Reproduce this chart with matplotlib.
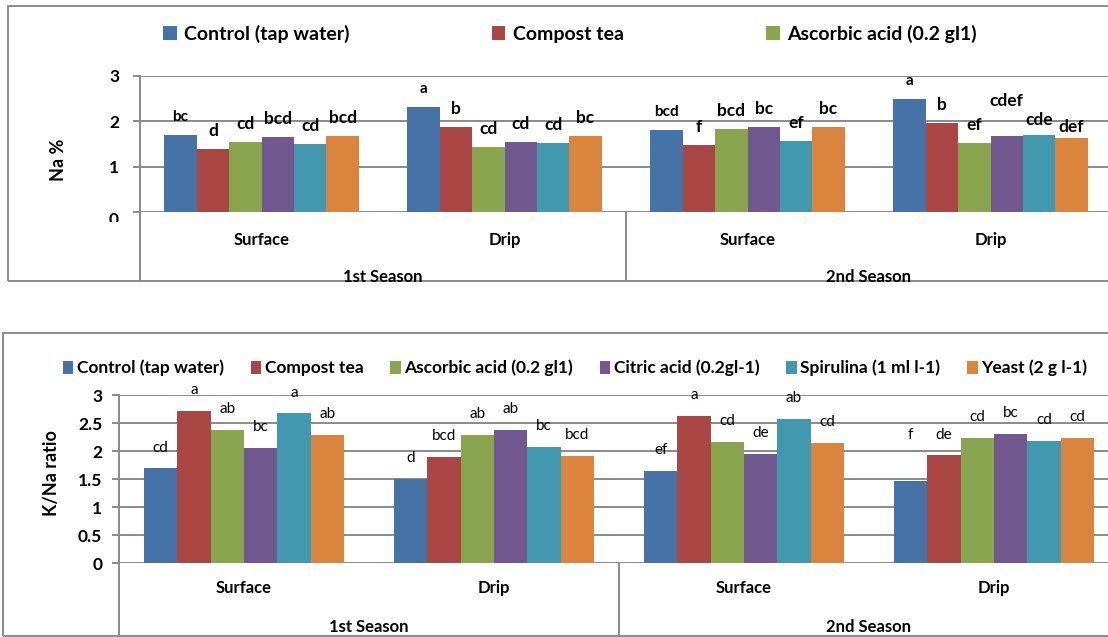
import numpy as np
import matplotlib.pyplot as plt
from matplotlib.patches import Rectangle
from matplotlib.lines import Line2D
from matplotlib.transforms import Bbox

plt.rcParams['font.family'] = ['Lato', 'DejaVu Sans']

W, H = 1108, 637

treatments = ['Control (tap water)', 'Compost tea', 'Ascorbic acid (0.2 gl1)',
              'Citric acid (0.2gl-1)', 'Spirulina (1 ml l-1)', 'Yeast (2 g l-1)']
colors = ['#4572A7', '#AA4643', '#89A54E', '#71588F', '#4198AF', '#DB843D']
systems = ['Surface', 'Drip', 'Surface', 'Drip']
seasons = ['1st Season', '2nd Season']

# rows: Surface/Drip of season 1, then season 2; columns: treatments
na_pct = np.array([
    [1.70, 1.39, 1.54, 1.66, 1.50, 1.68],
    [2.32, 1.88, 1.44, 1.54, 1.52, 1.67],
    [1.80, 1.47, 1.82, 1.87, 1.56, 1.87],
    [2.49, 1.96, 1.52, 1.68, 1.70, 1.63],
])
na_letters = [
    ['bc', 'd', 'cd', 'bcd', 'cd', 'bcd'],
    ['a', 'b', 'cd', 'cd', 'cd', 'bc'],
    ['bcd', 'f', 'bcd', 'bc', 'ef', 'bc'],
    ['a', 'b', 'ef', 'cdef', 'cde', 'def'],
]

kna_ratio = np.array([
    [1.69, 2.72, 2.37, 2.05, 2.67, 2.29],
    [1.50, 1.90, 2.29, 2.37, 2.08, 1.91],
    [1.65, 2.63, 2.16, 1.95, 2.57, 2.14],
    [1.46, 1.92, 2.24, 2.31, 2.18, 2.24],
])
kna_letters = [
    ['cd', 'a', 'ab', 'bc', 'a', 'ab'],
    ['d', 'bcd', 'ab', 'ab', 'bc', 'bcd'],
    ['ef', 'a', 'cd', 'de', 'ab', 'cd'],
    ['f', 'de', 'cd', 'bc', 'cd', 'cd'],
]

grey = '#8a8a8a'


def px_box(left, top, right, bottom):
    # pixel box (from top-left) -> figure fraction rect
    return [left / W, 1 - bottom / H, (right - left) / W, (bottom - top) / H]


def draw_panel(ax, values, letters, ticks, label_kw, label_off, nudges,
               cat_y, season_y, axis_drop, tick_size, tick_pad):
    n = len(treatments)
    width = 0.8 / n
    x = np.arange(len(systems))
    for j in range(n):
        pos = x - 0.4 + width * (j + 0.5)
        ax.bar(pos, values[:, j], width, color=colors[j], label=treatments[j], zorder=3)
        for i in range(len(systems)):
            kw = dict(label_kw)
            if j == 0 and 'control_size' in kw:
                kw['fontsize'] = kw['control_size']
            kw.pop('control_size', None)
            ax.annotate(letters[i][j], (pos[i], values[i, j]),
                        xytext=(0, label_off + nudges.get((i, j), 0)),
                        textcoords='offset points', ha='center', va='center',
                        annotation_clip=False, zorder=5, **kw)

    ax.set_xlim(-0.5, 3.5)
    ax.set_ylim(0, 3)
    ax.set_yticks(ticks)
    ax.set_yticklabels([f'{t:g}' if t > 0 or len(ticks) > 4 else '' for t in ticks],
                       fontweight='bold')
    ax.set_xticks([])
    ax.grid(axis='y', color=grey, lw=1.4, zorder=0)
    for s in ['top', 'right', 'bottom']:
        ax.spines[s].set_visible(False)
    ax.spines['left'].set_color(grey)
    ax.spines['left'].set_linewidth(1.4)
    ax.tick_params(axis='y', length=5, width=1.4, color=grey,
                   labelsize=tick_size, pad=tick_pad)

    xt = ax.get_xaxis_transform()
    # y axis carried down through the category rows, plus the season divider
    ax.add_line(Line2D([-0.5, -0.5], [0, axis_drop], transform=xt, color=grey,
                       lw=1.4, clip_on=False))
    ax.add_line(Line2D([1.5, 1.5], [0, axis_drop], transform=xt, color=grey,
                       lw=1.4, clip_on=False))
    for i, name in enumerate(systems):
        ax.text(i, cat_y, name, transform=xt, ha='center', va='center',
                fontsize=12, fontweight='bold')
    for k, name in enumerate(seasons):
        ax.text(0.5 + 2 * k, season_y, name, transform=xt, ha='center',
                va='center', fontsize=12, fontweight='bold', zorder=10)


fig = plt.figure(figsize=(W / 100, H / 100), dpi=100)

# frames around each chart (right edges run off the page)
for box in [(8, 6, 1130, 281), (3, 333, 1130, 636)]:
    fig.add_artist(Rectangle(px_box(*box)[:2], *px_box(*box)[2:],
                             transform=fig.transFigure, fill=False,
                             ec=grey, lw=1.4, zorder=0))

ax1 = fig.add_axes(px_box(140, 76, 1112, 212))
draw_panel(ax1, na_pct, na_letters, [0, 1, 2, 3],
           dict(fontsize=12.5, fontweight='bold', control_size=11),
           13, {(3, 3): 12, (3, 4): -2, (3, 5): -5},
           cat_y=-0.206, season_y=-0.478, axis_drop=-0.51,
           tick_size=12.5, tick_pad=10)
# zero label sits low and gets cut off by the plot box
zero = fig.text(119 / W, 1 - 220 / H, '0', ha='right', va='center',
                fontsize=12.5, fontweight='bold')
zero.set_clip_box(Bbox([[0, H - 222], [W, H]]))
zero.set_clip_on(True)
fig.text(58 / W, 1 - 160 / H, 'Na %', rotation=90, ha='center', va='center',
         fontsize=13, fontweight='bold')

h, l = ax1.get_legend_handles_labels()
fig.legend(h[:3], l[:3], loc='center left', bbox_to_anchor=(163 / W, 1 - 34 / H),
           ncol=3, frameon=False, prop=dict(size=14, weight='bold'),
           handlelength=0.7, handleheight=0.7, handletextpad=0.4,
           columnspacing=7.3, borderpad=0, borderaxespad=0)

ax2 = fig.add_axes(px_box(119, 395, 1119, 563))
draw_panel(ax2, kna_ratio, kna_letters, [0, 0.5, 1, 1.5, 2, 2.5, 3],
           dict(fontsize=11), 15, {(3, 0): 18},
           cat_y=-0.149, season_y=-0.381, axis_drop=-0.45,
           tick_size=12.5, tick_pad=7)
fig.text(52 / W, 1 - 473 / H, 'K/Na ratio', rotation=90, ha='center', va='center',
         fontsize=13, fontweight='bold')
fig.legend(*ax2.get_legend_handles_labels(), loc='center left',
           bbox_to_anchor=(63 / W, 1 - 368 / H), ncol=6, frameon=False,
           prop=dict(size=12.5, weight='bold'), handlelength=0.6, handleheight=0.75,
           handletextpad=0.2, columnspacing=1.55, borderpad=0, borderaxespad=0)

fig.savefig('out.png', dpi=100)
